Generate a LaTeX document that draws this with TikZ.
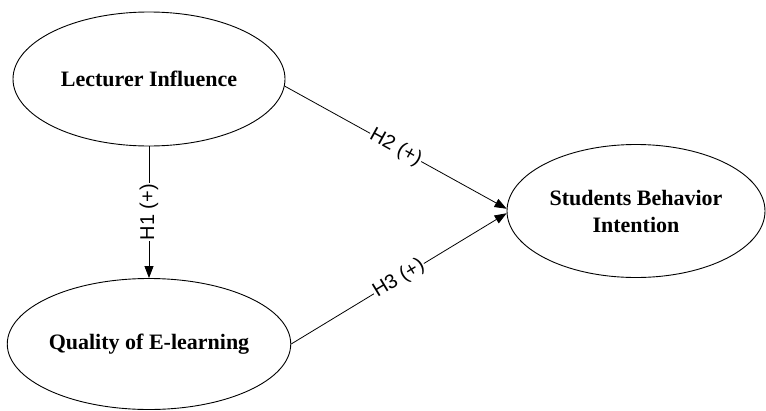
\documentclass[tikz,border=0pt]{standalone}
\usepackage{fontspec}
\setmainfont{Liberation Serif}
\newfontfamily\hypfont{Liberation Sans}
\usetikzlibrary{shapes.geometric,arrows.meta}
\begin{document}
\begin{tikzpicture}[x=1pt,y=-1pt,
  construct/.style={ellipse,draw,line width=0.9pt,inner sep=0pt,align=center,
    font=\fontsize{22}{27}\selectfont\bfseries},
  path/.style={line width=0.8pt,-{Triangle[length=12pt,width=9pt]}},
  hyp/.style={fill=white,inner sep=1pt,font=\hypfont\fontsize{20}{22}\selectfont}]
\useasboundingbox (0,0) rectangle (766,410);
\fill[white] (0,0) rectangle (766,410);

\node[construct,minimum width=272pt,minimum height=134pt] (lec) at (149,79) {Lecturer Influence};
\node[construct,minimum width=272pt,minimum height=131pt] (qual) at (149,344) {Quality of E-learning};
\node[construct,minimum width=258pt,minimum height=133pt] (stu) at (636,211) {Students Behavior\\Intention};

\draw[path] (lec.south) -- node[hyp,rotate=90] {H1 (+)} (qual.north);
\draw[path] (lec.-3) -- node[hyp,sloped] {H2 (+)} (stu.179);
\draw[path] (qual.east) -- node[hyp,sloped] {H3 (+)} (stu.181);
\end{tikzpicture}
\end{document}
